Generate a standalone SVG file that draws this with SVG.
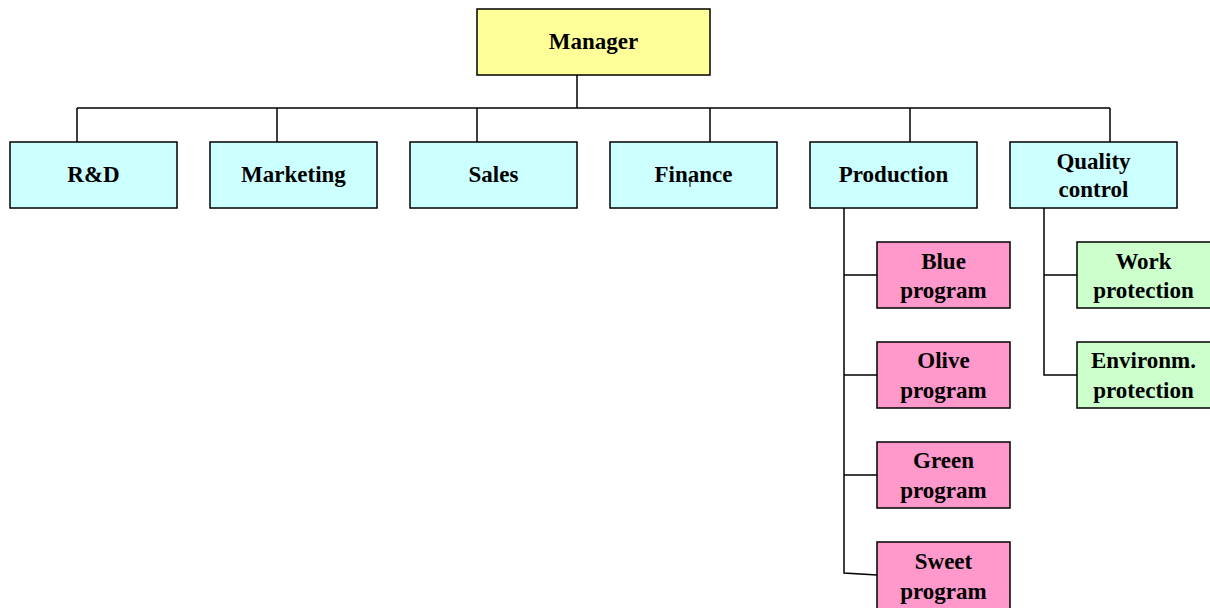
<svg xmlns="http://www.w3.org/2000/svg" width="1210" height="608" viewBox="0 0 1210 608">
<style>
.n{stroke:#000;stroke-width:1.5}
.y{fill:#ffff99}.c{fill:#ccffff}.p{fill:#ff99cc}.g{fill:#ccffcc}
text{font-family:"Liberation Serif","Times New Roman",serif;font-weight:bold;font-size:23px;text-anchor:middle;fill:#000}
#connectors path{fill:none;stroke:#000;stroke-width:1.5}
</style>
<rect x="0" y="0" width="1210" height="608" fill="#fff"/>
<g id="connectors">
<path d="M577 75V108M77 108H1110M77 108V142M277 108V142M477 108V142M710 108V142M910 108V142M1110 108V142"/>
<path d="M844 208V573L877 575M844 275H877M844 375H877M844 475H877"/>
<path d="M1044 208V375H1077M1044 275H1077"/>
</g>
<g id="manager"><rect class="n y" x="477" y="9" width="233" height="66"/><text x="593.5" y="49">Manager</text></g>
<g id="rd"><rect class="n c" x="10" y="142" width="167" height="66"/><text x="93.5" y="182">R&amp;D</text></g>
<g id="marketing"><rect class="n c" x="210" y="142" width="167" height="66"/><text x="293.5" y="182">Marketing</text></g>
<g id="sales"><rect class="n c" x="410" y="142" width="167" height="66"/><text x="493.5" y="182">Sales</text></g>
<g id="finance"><rect class="n c" x="610" y="142" width="167" height="66"/><text x="693.5" y="182">Finance</text><path d="M690 178V187" stroke="#000" stroke-width="1"/></g>
<g id="production"><rect class="n c" x="810" y="142" width="167" height="66"/><text x="893.5" y="182">Production</text></g>
<g id="quality"><rect class="n c" x="1010" y="142" width="167" height="66"/><text x="1093.5" y="169">Quality</text><text x="1093.5" y="197">control</text></g>
<g id="blue"><rect class="n p" x="877" y="242" width="133" height="66"/><text x="943.5" y="269">Blue</text><text x="943.5" y="298">program</text></g>
<g id="olive"><rect class="n p" x="877" y="342" width="133" height="66"/><text x="943.5" y="368">Olive</text><text x="943.5" y="398">program</text></g>
<g id="green"><rect class="n p" x="877" y="442" width="133" height="66"/><text x="943.5" y="468">Green</text><text x="943.5" y="498">program</text></g>
<g id="sweet"><rect class="n p" x="877" y="542" width="133" height="70"/><text x="943.5" y="569">Sweet</text><text x="943.5" y="599">program</text></g>
<g id="work"><rect class="n g" x="1077" y="242" width="136" height="66"/><text x="1143.5" y="269">Work</text><text x="1143.5" y="298">protection</text></g>
<g id="environ"><rect class="n g" x="1077" y="342" width="136" height="66"/><text x="1143.5" y="368">Environm.</text><text x="1143.5" y="398">protection</text></g>
</svg>
